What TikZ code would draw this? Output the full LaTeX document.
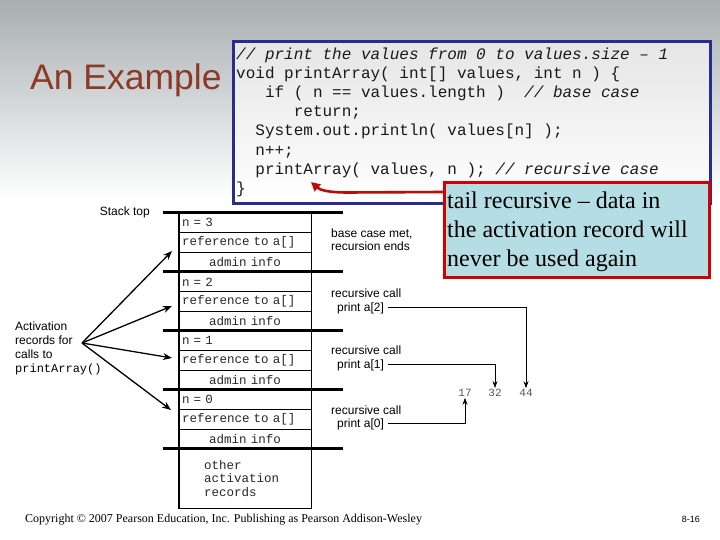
\documentclass[tikz,border=0pt]{standalone}
\usepackage{fontspec}
\setmainfont{Liberation Serif}
\setmonofont{Liberation Mono}
\newfontfamily\arialf{Liberation Sans}
\usetikzlibrary{arrows.meta,calc}
\definecolor{bgtop}{RGB}{168,174,177}
\definecolor{titlec}{RGB}{140,58,38}
\definecolor{codeblue}{RGB}{42,44,140}
\definecolor{calloutred}{RGB}{210,0,0}
\definecolor{arrowred}{RGB}{190,10,10}
\definecolor{calloutfill}{RGB}{180,221,228}
\definecolor{stacktext}{RGB}{40,40,40}
\tikzset{
  codeline/.style={anchor=base west, inner sep=0pt, text=black!90, font=\ttfamily\fontsize{16}{19}\selectfont},
  calltext/.style={anchor=base west, inner sep=0pt, font=\fontsize{24}{29}\selectfont},
  cellL/.style={draw, line width=0.8pt, minimum width=132pt, minimum height=19.67pt, inner sep=0pt,
     text width=126pt, align=left, text=stacktext, font=\ttfamily\fontsize{12.5}{13}\selectfont},
  cellC/.style={cellL, align=center},
  sep/.style={line width=2.4pt},
  lbl/.style={anchor=base west, inner sep=0pt, font=\arialf\fontsize{12}{14}\selectfont, text=black},
  num/.style={inner sep=1pt, font=\ttfamily\fontsize{11}{12}\selectfont, text=black!65},
  thinarrow/.style={line width=0.8pt, -{Stealth[length=7pt,width=5pt]}},
  actarrow/.style={line width=1.3pt, -{Stealth[length=9pt,width=7pt]}}
}
\begin{document}
\begin{tikzpicture}[x=1pt,y=-1pt]
\useasboundingbox (0,0) rectangle (720,540);
\fill[white] (0,0) rectangle (720,540);
\shade[top color=bgtop, bottom color=white] (0,0) rectangle (720,200);

% title
\node[anchor=base west, inner sep=0pt, font=\arialf\fontsize{35.5}{40}\selectfont, text=titlec] (title) at (30,90) {An Example};

% code box
\node[draw=codeblue, line width=3pt, top color=black!10, bottom color=white, minimum width=477pt, minimum height=162pt, anchor=north west] (codebox) at (232,40) {};
\node[codeline] (c1) at (236,60) {\itshape // print the values from 0 to values.size – 1};
\node[codeline] (c2) at (236,79) {void printArray( int[] values, int n ) \{};
\node[codeline] (c3) at (264.8,98) {if ( n == values.length )\ \ \textit{// base case}};
\node[codeline] (c4) at (293.6,117) {return;};
\node[codeline] (c5) at (255.2,136) {System.out.println( values[n] );};
\node[codeline] (c6) at (255.2,155.5) {n++;};
\node[codeline] (c7) at (255.2,174.5) {printArray( values, n ); \textit{// recursive case}};
\node[codeline] (c8) at (236,193.5) {\}};

% callout
\node[draw=calloutred, line width=3pt, fill=calloutfill, minimum width=265pt, minimum height=95pt, anchor=north west] (callout) at (443,181) {};
\node[calltext] (t1) at (447,208) {tail recursive – data in};
\node[calltext] (t2) at (447,237) {the activation record will};
\node[calltext] (t3) at (447,266) {never be used again};
\coordinate (redstart) at ($(callout.north west)+(0,11)$);
\coordinate (redend) at (311,182);
\draw[arrowred, line width=2.6pt, -{Triangle[length=9pt,width=9pt]}] (redstart) -- (348,192.5) .. controls (328,192.5) and (320,190) .. (redend);

% stack
\node[cellL] (r3n) at (245,222.83) {n = 3};
\node[cellL] (r3r) at (245,242.5) {reference to a[]};
\node[cellC] (r3a) at (245,262.17) {admin info};
\node[cellL] (r2n) at (245,281.83) {n = 2};
\node[cellL] (r2r) at (245,301.5) {reference to a[]};
\node[cellC] (r2a) at (245,321.17) {admin info};
\node[cellL] (r1n) at (245,340.83) {n = 1};
\node[cellL] (r1r) at (245,360.5) {reference to a[]};
\node[cellC] (r1a) at (245,380.17) {admin info};
\node[cellL] (r0n) at (245,399.83) {n = 0};
\node[cellL] (r0r) at (245,419.5) {reference to a[]};
\node[cellC] (r0a) at (245,439.17) {admin info};
\node[draw, line width=0.8pt, minimum width=132pt, minimum height=59pt, inner sep=0pt] (other) at (245,478.5) {};
\node[anchor=west, inner sep=0pt, align=left, text=stacktext, font=\ttfamily\fontsize{12.5}{13.5}\selectfont] (othertext) at (204,478.5) {other\\activation\\records};
\draw[line width=1.2pt] (r3n.north west) rectangle (other.south east);
\foreach \c in {r3n,r2n,r1n,r0n,other}{
  \draw[sep] ($(\c.north west)+(-16,0)$) -- ($(\c.north east)+(32,0)$);
}

% left labels
\node[anchor=base east, inner sep=0pt, font=\arialf\fontsize{12}{14}\selectfont, text=black] (stacktop) at (150,215) {Stack top};
\node[anchor=north west, inner sep=0pt, align=left, font=\arialf\fontsize{12}{14}\selectfont, text=black] (act) at (15,322) {Activation\\records for\\calls to\\{\ttfamily\fontsize{12}{14}\selectfont printArray()}};
\coordinate (actsrc) at (82,343);
\coordinate (tip3) at (172,251);
\coordinate (tip2) at (172,306);
\coordinate (tip1) at (172,358);
\coordinate (tip0) at (171,410);
\foreach \t in {tip3,tip2,tip1,tip0}{
  \draw[actarrow] (actsrc) -- (\t);
}

% right labels
\node[lbl] (bc1) at (331,237) {base case met,};
\node[lbl] (bc2) at (331,250) {recursion ends};
\node[lbl] (rc2) at (331,297) {recursive call};
\node[lbl] (pa2) at (337,311) {print a[2]};
\node[lbl] (rc1) at (331,354) {recursive call};
\node[lbl] (pa1) at (337,368) {print a[1]};
\node[lbl] (rc0) at (331,414) {recursive call};
\node[lbl] (pa0) at (337,427) {print a[0]};

\node[num] (n17) at (465,393) {17};
\node[num] (n32) at (495,393) {32};
\node[num] (n44) at (526,393) {44};
\draw[thinarrow] ($(pa2.east)+(4,0)$) -| (n44.north);
\draw[thinarrow] ($(pa1.east)+(4,0)$) -| (n32.north);
\draw[thinarrow] ($(pa0.east)+(4,0)$) -| (n17.south);

% footer
\node[anchor=base west, inner sep=0pt, font=\fontsize{12}{13}\selectfont] (copy) at (25,522) {Copyright © 2007 Pearson Education, Inc. Publishing as Pearson Addison-Wesley};
\node[anchor=base east, inner sep=0pt, font=\arialf\fontsize{9}{10}\selectfont] (pg) at (700,522) {8-16};
\end{tikzpicture}
\end{document}
